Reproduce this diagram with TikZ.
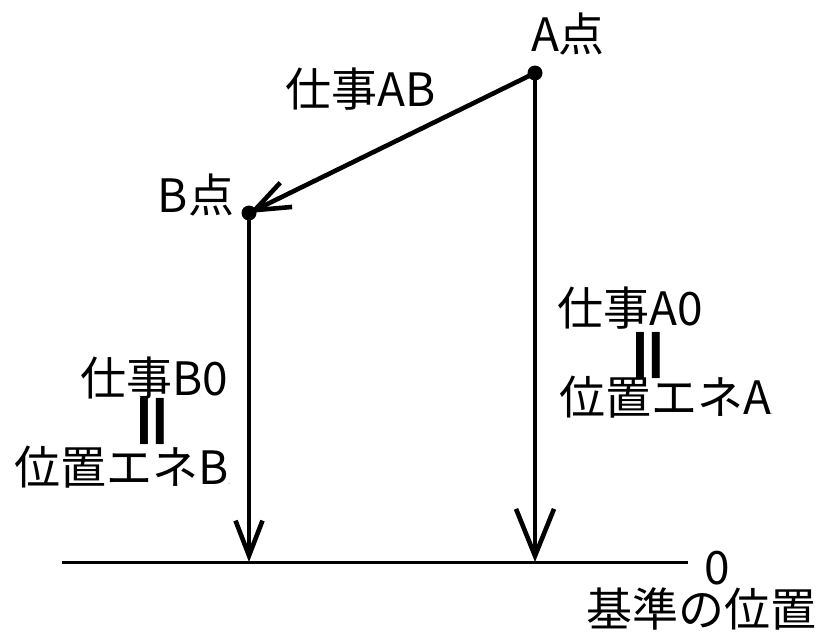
\documentclass[tikz,border=0pt]{standalone}
\usepackage{fontspec}
\setmainfont{Noto Sans CJK JP}
\usetikzlibrary{arrows.meta}
\begin{document}
\begin{tikzpicture}[x=1pt,y=-1pt,
  lbl/.style={font=\fontsize{46}{52}\selectfont, inner sep=0pt, anchor=center},
  eqlbl/.style={font=\fontsize{66}{72}\selectfont\bfseries, inner sep=0pt, anchor=center, rotate=90},
  dotpt/.style={circle, fill=black, inner sep=0pt, minimum size=15pt},
  mainline/.style={line width=4.6pt},
  bigtip/.style={-{Straight Barb[length=47pt,width=38pt,line width=4.6pt]}},
  smalltip/.style={-{Straight Barb[length=35pt,width=27pt,line width=4.6pt]}}]
\useasboundingbox (0,0) rectangle (823,635);
% points
\node[dotpt] (A) at (535,73) {};
\node[dotpt] (B) at (249,213) {};
% baseline
\coordinate (L) at (62,562);
\coordinate (R) at (688,562);
\coordinate (A0) at (535,562);
\coordinate (B0) at (249,562);
\draw[line width=3pt] (L) -- (R);
% arrows
\draw[mainline,bigtip] (A.center) -- (A0);
\draw[mainline,smalltip] (B.center) -- (B0);
\draw[mainline,smalltip] (A.center) -- (B.center);
% labels
\node[lbl] (tA) at (568,34) {A点};
\node[lbl] (tAB) at (361,89) {仕事AB};
\node[lbl] (tB) at (196,195) {B点};
\node[lbl] (tB0) at (154,378) {仕事B0};
\node[eqlbl] (eqB) at (159,421) {＝};
\node[lbl] (pB) at (122,467) {位置エネB{\fontsize{6}{6}\selectfont .}};
\node[lbl] (tA0) at (630,308) {仕事A0};
\node[eqlbl] (eqA) at (655,355) {＝};
\node[lbl] (pA) at (666,397) {位置エネA{\fontsize{6}{6}\selectfont .}};
\node[lbl] (zero) at (717,568) {0};
\node[lbl] (kijun) at (701,609) {基準の位置};
\end{tikzpicture}
\end{document}
